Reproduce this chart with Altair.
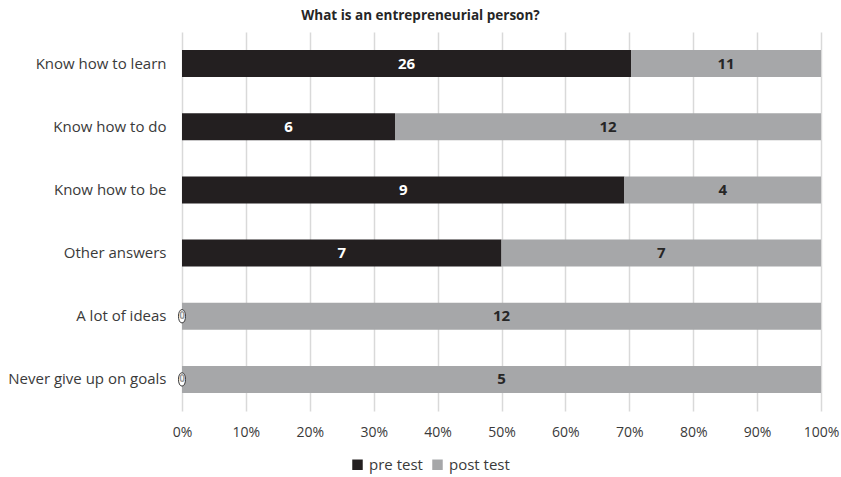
import altair as alt
import pandas as pd

categories = ["Know how to learn", "Know how to do", "Know how to be",
              "Other answers", "A lot of ideas", "Never give up on goals"]
pre_test = [26, 6, 9, 7, 0, 0]
post_test = [11, 12, 4, 7, 12, 5]
series = ["pre test", "post test"]
colors = ["#231f20", "#a6a7a9"]

rows = []
for c, a, b in zip(categories, pre_test, post_test):
    rows.append({"category": c, "series": "pre test", "order": 0, "value": a})
    rows.append({"category": c, "series": "post test", "order": 1, "value": b})
df = pd.DataFrame(rows)

FONT = "Open Sans"

base = alt.Chart(df).transform_joinaggregate(
    total="sum(value)", groupby=["category"]
).transform_calculate(
    frac="datum.value / datum.total"
).transform_window(
    cum="sum(frac)", groupby=["category"], sort=[alt.SortField("order")]
).transform_calculate(
    start="datum.cum - datum.frac",
    mid="datum.cum - datum.frac / 2"
)

yenc = alt.Y("category:N", sort=categories, title=None,
             scale=alt.Scale(paddingInner=0.57, paddingOuter=0.285),
             axis=alt.Axis(domain=False, ticks=False, labelPadding=16,
                           labelFont=FONT, labelFontSize=15, labelColor="#3a3a3a",
                           labelLimit=300))

xscale = alt.Scale(domain=[0, 1])

bars = base.mark_bar(size=27).encode(
    x=alt.X("start:Q", scale=xscale, title=None,
            axis=alt.Axis(format=".0%", values=[i / 10 for i in range(11)],
                          domain=False, ticks=False, labelPadding=14, labelFlush=False,
                          gridColor="#d9d9d9", gridWidth=1.5,
                          labelFont=FONT, labelFontSize=14, labelColor="#3a3a3a")),
    x2="cum:Q",
    y=yenc,
    color=alt.Color("series:N", scale=alt.Scale(domain=series, range=colors),
                    legend=alt.Legend(title=None, orient="none", direction="horizontal",
                                      legendX=168, legendY=425, symbolType="square",
                                      symbolSize=110, symbolStrokeWidth=0,
                                      labelFont=FONT, labelFontSize=15,
                                      labelColor="#3a3a3a", columnPadding=7,
                                      symbolOffset=0)),
    order=alt.Order("order:Q")
)

pre_labels = base.transform_filter("datum.series == 'pre test' && datum.value > 0").mark_text(
    font=FONT, fontSize=15, fontWeight="bold", color="white", baseline="middle"
).encode(x=alt.X("mid:Q", scale=xscale), y=alt.Y("category:N", sort=categories), text="value:Q")

post_labels = base.transform_filter("datum.series == 'post test'").mark_text(
    font=FONT, fontSize=15, fontWeight="bold", color="#262626", baseline="middle"
).encode(x=alt.X("mid:Q", scale=xscale), y=alt.Y("category:N", sort=categories), text="value:Q")

zero_pills = base.transform_filter("datum.series == 'pre test' && datum.value == 0").mark_point(
    shape="M0,-1C0.7,-1 0.7,1 0,1C-0.7,1 -0.7,-1 0,-1Z",
    filled=True, fill="white", stroke="#3a3a3a", strokeWidth=1, size=180, opacity=1
).encode(x=alt.X("mid:Q", scale=xscale), y=alt.Y("category:N", sort=categories))

zero_labels = base.transform_filter("datum.series == 'pre test' && datum.value == 0").mark_text(
    font=FONT, fontSize=10, fontWeight="bold", color="#9a9a9a", baseline="middle"
).encode(x=alt.X("mid:Q", scale=xscale), y=alt.Y("category:N", sort=categories), text="value:Q")

chart = alt.layer(bars, pre_labels, post_labels, zero_pills, zero_labels).properties(
    width=639, height=379,
    title=alt.TitleParams("What is an entrepreneurial person?", font=FONT, fontSize=13.5,
                          fontWeight="bold", color="#262626", anchor="middle",
                          dx=-81, offset=10),
    autosize=alt.AutoSizeParams(type="none"),
    padding={"left": 182, "top": 32, "right": 20, "bottom": 66},
    background="white"
).configure_view(stroke=None)

chart.save("out.html", embed_options={"renderer": "svg", "actions": False})
